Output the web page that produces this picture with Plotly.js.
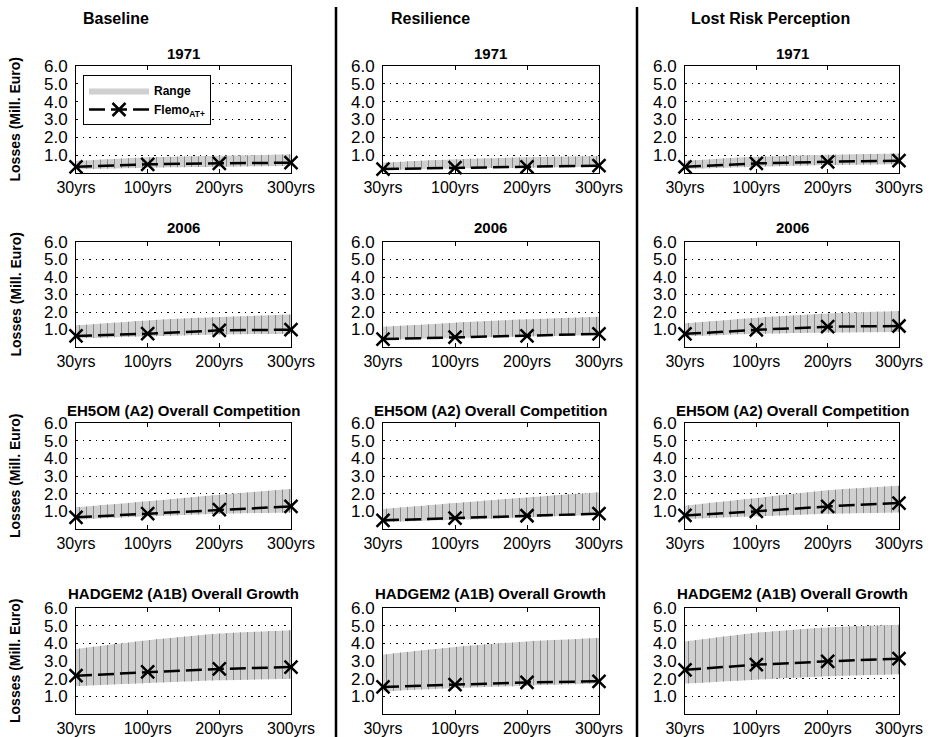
<!DOCTYPE html>
<html>
<head>
<meta charset="utf-8">
<script src="https://cdn.plot.ly/plotly-3.0.1.min.js"></script>
<style>html,body{margin:0;padding:0;background:#fff;}#chart{width:931px;height:737px;}</style>
</head>
<body>
<div id="chart"></div>
<script>
// ---- data ----
const periods = ['30yrs', '100yrs', '200yrs', '300yrs'];
const columnNames = ['Baseline', 'Resilience', 'Lost Risk Perception'];
const scenarios = ['1971', '2006', 'EH5OM (A2) Overall Competition', 'HADGEM2 (A1B) Overall Growth'];
const yTickVals = [1, 2, 3, 4, 5, 6];
const yTickText = ['1.0', '2.0', '3.0', '4.0', '5.0', '6.0'];

// rows: 1971, 2006, EH5OM, HADGEM2
const baselineFlemo = [[0.35, 0.49, 0.54, 0.58], [0.63, 0.76, 0.95, 0.99], [0.66, 0.87, 1.09, 1.28], [2.17, 2.38, 2.55, 2.66]];
const baselineLow   = [[0.22, 0.30, 0.35, 0.41], [0.48, 0.61, 0.72, 0.76], [0.53, 0.72, 0.87, 0.94], [1.57, 1.75, 1.91, 2.00]];
const baselineHigh  = [[0.67, 0.88, 0.97, 1.05], [1.24, 1.52, 1.71, 1.85], [1.23, 1.57, 1.94, 2.26], [3.68, 4.17, 4.55, 4.74]];

const resilienceFlemo = [[0.22, 0.30, 0.35, 0.41], [0.45, 0.56, 0.64, 0.75], [0.49, 0.62, 0.75, 0.87], [1.53, 1.66, 1.79, 1.85]];
const resilienceLow   = [[0.17, 0.25, 0.30, 0.35], [0.41, 0.51, 0.60, 0.68], [0.38, 0.52, 0.66, 0.80], [1.28, 1.47, 1.60, 1.72]];
const resilienceHigh  = [[0.58, 0.77, 0.88, 0.95], [1.16, 1.39, 1.58, 1.73], [1.13, 1.47, 1.79, 2.08], [3.36, 3.79, 4.11, 4.30]];

const lostRiskFlemo = [[0.35, 0.54, 0.63, 0.69], [0.75, 0.98, 1.16, 1.20], [0.77, 1.00, 1.28, 1.47], [2.50, 2.79, 2.98, 3.13]];
const lostRiskLow   = [[0.22, 0.35, 0.45, 0.49], [0.60, 0.75, 0.83, 0.86], [0.57, 0.72, 0.87, 0.94], [1.72, 1.94, 2.13, 2.25]];
const lostRiskHigh  = [[0.69, 0.91, 1.03, 1.10], [1.35, 1.67, 1.91, 2.05], [1.32, 1.75, 2.19, 2.45], [4.10, 4.60, 4.90, 5.05]];

// ---- layout geometry (pixels) ----
const W = 931, H = 737;
const colPx = [[76, 291], [383, 599], [685, 899]];
const rowPx = [[66, 173], [242, 347], [423, 529], [608, 714]];
const titleY = [53, 227, 410, 593];

const columns = [
  {flemo: baselineFlemo, low: baselineLow, high: baselineHigh},
  {flemo: resilienceFlemo, low: resilienceLow, high: resilienceHigh},
  {flemo: lostRiskFlemo, low: lostRiskLow, high: lostRiskHigh}
];

const FONT = 'Liberation Sans, Arial, Helvetica, sans-serif';
const traces = [];
const layout = {
  width: W, height: H,
  margin: {l: 0, r: 0, t: 0, b: 0},
  paper_bgcolor: '#ffffff', plot_bgcolor: '#ffffff',
  font: {family: FONT, color: '#000'},
  showlegend: true,
  legend: {
    x: 83 / W, y: 1 - 75 / H, xanchor: 'left', yanchor: 'top',
    bgcolor: '#ffffff', bordercolor: '#000', borderwidth: 1,
    font: {family: FONT, size: 12, color: '#000', weight: 'bold'},
    itemwidth: 60, tracegroupgap: 0, traceorder: 'normal'
  },
  annotations: [], shapes: []
};

for (let r = 0; r < 4; r++) {
  for (let c = 0; c < 3; c++) {
    const idx = r * 3 + c + 1;
    const xa = 'x' + (idx === 1 ? '' : idx);
    const ya = 'y' + (idx === 1 ? '' : idx);
    const d = columns[c];
    const first = idx === 1;

    traces.push({x: periods, y: d.low[r], xaxis: xa, yaxis: ya, mode: 'lines',
      line: {width: 0, shape: 'spline', smoothing: 0.6}, showlegend: false, hoverinfo: 'skip'});
    traces.push({x: periods, y: d.high[r], xaxis: xa, yaxis: ya, mode: 'lines', fill: 'tonexty',
      fillcolor: '#d0d0d0', line: {width: 0, shape: 'spline', smoothing: 0.6},
      name: 'Range', showlegend: first});
    traces.push({x: periods, y: d.low[r], xaxis: xa, yaxis: ya, mode: 'lines',
      line: {width: 0, shape: 'spline', smoothing: 0.6}, showlegend: false, hoverinfo: 'skip'});
    traces.push({x: periods, y: d.high[r], xaxis: xa, yaxis: ya, mode: 'lines', fill: 'tonexty',
      fillcolor: 'rgba(0,0,0,0)',
      fillpattern: {shape: '|', fgcolor: '#808080', bgcolor: 'rgba(0,0,0,0)', size: 7, solidity: 0.13},
      line: {width: 0, shape: 'spline', smoothing: 0.6}, showlegend: false, hoverinfo: 'skip'});
    traces.push({x: periods, y: d.flemo[r], xaxis: xa, yaxis: ya, mode: 'lines+markers',
      line: {color: '#000', width: 2.5, dash: '16px,6px'},
      marker: {symbol: 'x-thin', size: 13, color: '#000', line: {width: 2.5, color: '#000'}},
      cliponaxis: false, name: 'Flemo<sub>AT+</sub>', showlegend: first});

    const xd = [colPx[c][0] / W, colPx[c][1] / W];
    const yd = [1 - rowPx[r][1] / H, 1 - rowPx[r][0] / H];
    layout['xaxis' + (idx === 1 ? '' : idx)] = {
      domain: xd, anchor: ya, type: 'category', categoryorder: 'array', categoryarray: periods,
      range: [0, 3], showgrid: false, zeroline: false,
      showline: true, linecolor: '#000', linewidth: 1, mirror: 'ticks',
      ticks: 'inside', ticklen: 4, tickcolor: '#000',
      tickfont: {family: FONT, size: 16, color: '#000'}, ticklabelstandoff: 0
    };
    layout['yaxis' + (idx === 1 ? '' : idx)] = {
      domain: yd, anchor: xa, range: [0, 6], tickvals: yTickVals, ticktext: yTickText,
      showgrid: true, gridcolor: '#000', gridwidth: 1, griddash: '1.5px,5px', zeroline: false,
      showline: true, linecolor: '#000', linewidth: 1, mirror: true, ticks: '',
      tickfont: {family: FONT, size: 17, color: '#000'}, ticklabelstandoff: 4
    };

    layout.annotations.push({
      text: '<b>' + scenarios[r] + '</b>', xref: 'paper', yref: 'paper',
      x: (xd[0] + xd[1]) / 2, y: 1 - titleY[r] / H, xanchor: 'center', yanchor: 'middle',
      showarrow: false, font: {family: FONT, size: 15, color: '#000'}
    });
  }
  layout.annotations.push({
    text: '<b>Losses (Mill. Euro)</b>', xref: 'paper', yref: 'paper', textangle: -90,
    x: 15 / W, y: 1 - ((rowPx[r][0] + rowPx[r][1]) / 2) / H, xanchor: 'center', yanchor: 'middle',
    showarrow: false, font: {family: FONT, size: 14, color: '#000'}
  });
}

const headerX = [81, 389, 689];
for (let c = 0; c < 3; c++) {
  layout.annotations.push({
    text: '<b>' + columnNames[c] + '</b>', xref: 'paper', yref: 'paper',
    x: headerX[c] / W, y: 1 - 19 / H, xanchor: 'left', yanchor: 'middle',
    showarrow: false, font: {family: FONT, size: 16, color: '#000'}
  });
}

[336, 637].forEach(px => {
  layout.shapes.push({type: 'line', xref: 'paper', yref: 'paper',
    x0: px / W, x1: px / W, y0: 0, y1: 1 - 7 / H, line: {color: '#000', width: 2.5}});
});

Plotly.newPlot('chart', traces, layout, {displayModeBar: false, staticPlot: true});
</script>
</body>
</html>
